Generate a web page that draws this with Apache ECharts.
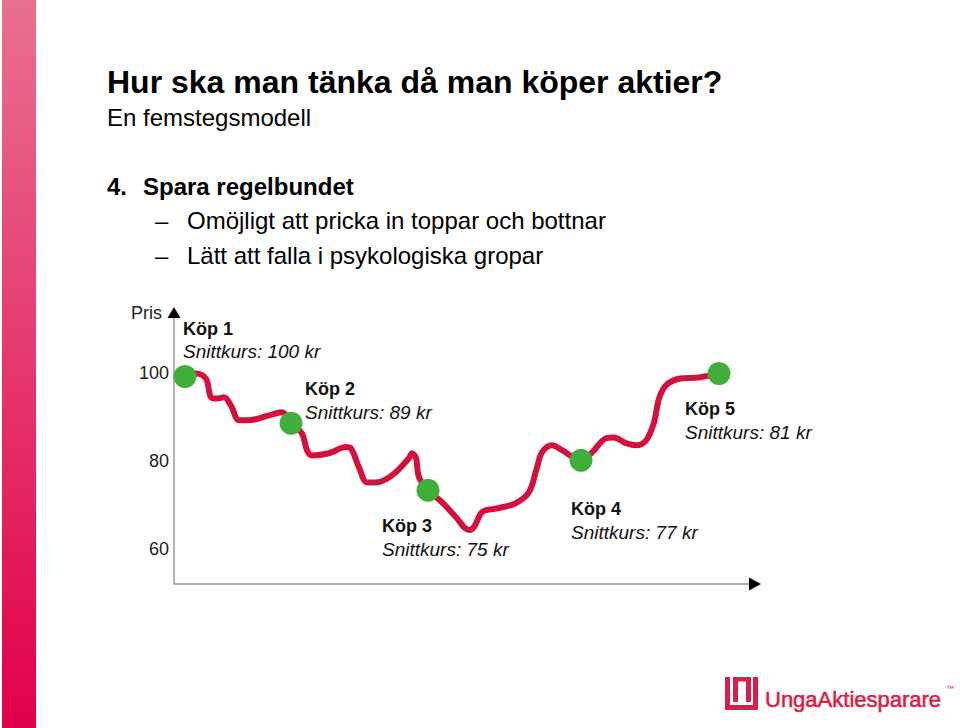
<!DOCTYPE html>
<html>
<head>
<meta charset="utf-8">
<script src="https://cdn.jsdelivr.net/npm/echarts@6/dist/echarts.min.js"></script>
<style>html,body{margin:0;padding:0;background:#fff}#c{width:960px;height:728px}</style>
</head>
<body>
<div id="c"></div>
<script>
// ---- data ----
const timeAxis = [1.1,2.2,3.2,3.7,4.3,5.0,5.7,6.5,7.5,9.5,10.8,11.7,12.8,13.3,13.8,15.5,17.2,17.7,18.5,19.3,20.2,21.8,23.5,23.8,24.2,24.5,25.4,26.8,28.2,29.5,30.0,30.7,31.2,32.5,34.2,35.5,36.3,36.8,37.8,38.8,40.7,41.8,43.2,44.0,45.2,46.2,47.2,48.0,48.5,49.2,50.5,52.5,54.5];
const priceSeries = [99.1,99.8,98.6,94.4,94.1,94.4,92.5,89.2,89.2,90.3,91.0,88.5,86.2,82.4,81.2,81.7,83.1,82.8,78.5,75.1,75.1,76.7,80.6,81.7,80.6,76.3,73.3,70.6,67.2,64.3,65.0,68.1,68.8,69.3,70.4,72.9,78.5,81.9,83.5,82.4,80.1,81.9,85.1,85.3,84.0,83.5,84.6,88.7,94.1,97.1,98.6,98.9,99.8];
const buyTime = [1.1, 11.7, 25.4, 40.7, 54.5];
const buyPrice = [99.1, 88.5, 73.3, 80.1, 99.8];
const buyNames = ['Köp 1','Köp 2','Köp 3','Köp 4','Köp 5'];
const avgPrice = [100, 89, 75, 77, 81];
const yTicks = [60, 80, 100];
const yAxisName = 'Pris';

// ---- layout / style config ----
const FONT = "'Liberation Sans', Arial, Helvetica, sans-serif";
const GL = 174, GT = 317, GR = 750, GB = 584;
const labelOffsets = [[9.5,-48],[25.5,-34],[-34.5,36],[1.5,49],[-22.5,36]];
const BRAND = '#d81f4c';

const chart = echarts.init(document.getElementById('c'), null, {renderer:'svg'});

const buyData = buyTime.map((t,i)=>({
  value:[t, buyPrice[i]],
  label:{position: labelOffsets[i]}
}));

const option = {
  animation:false,
  backgroundColor:'#fff',
  grid:{left:GL, top:GT, width:GR-GL, height:GB-GT, containLabel:false},
  xAxis:{
    type:'value', min:0, max:57.6,
    axisLine:{show:true, lineStyle:{color:'#9a9a9a', width:1.5}},
    axisTick:{show:false}, axisLabel:{show:false}, splitLine:{show:false}
  },
  yAxis:{
    type:'value', min:52.06, max:112.6,
    name:yAxisName, nameLocation:'end', nameGap:4,
    nameTextStyle:{fontFamily:FONT, fontSize:18, color:'#222', align:'right', verticalAlign:'middle', padding:[0,12,0,0]},
    axisLine:{show:true, lineStyle:{color:'#9a9a9a', width:1.5}},
    axisTick:{show:false},
    axisLabel:{customValues:yTicks, fontFamily:FONT, fontSize:18, color:'#222', margin:5},
    splitLine:{show:false}
  },
  series:[
    {
      type:'line', data: timeAxis.map((t,i)=>[t, priceSeries[i]]),
      smooth:0.35, showSymbol:false, symbol:'none',
      lineStyle:{color:'#d2113f', width:6, cap:'round', join:'round'},
      z:2, silent:true
    },
    {
      type:'scatter', data: buyData, symbolSize:23,
      itemStyle:{color:'#3fae3b', opacity:1},
      z:3, silent:true,
      label:{
        show:true, align:'left', verticalAlign:'top',
        formatter:(p)=>'{b|'+buyNames[p.dataIndex]+'}\n{i|Snittkurs: '+avgPrice[p.dataIndex]+' kr}',
        rich:{
          b:{fontFamily:FONT, fontSize:18, fontWeight:'bold', color:'#111', lineHeight:23},
          i:{fontFamily:FONT, fontSize:19, fontStyle:'italic', color:'#111', lineHeight:23}
        }
      }
    }
  ],
  graphic:[
    {type:'rect', shape:{x:2,y:0,width:34,height:728}, style:{fill:new echarts.graphic.LinearGradient(0,0,0,1,[{offset:0,color:'#e9708f'},{offset:1,color:'#e1004a'}])}, silent:true},
    {type:'text', style:{x:107, y:82, text:'Hur ska man tänka då man köper aktier?', font:'bold 32px '+FONT, fill:'#000', verticalAlign:'middle'}},
    {type:'text', style:{x:107, y:117, text:'En femstegsmodell', font:'24px '+FONT, fill:'#000', verticalAlign:'middle'}},
    {type:'text', style:{x:107, y:186, text:'4.', font:'bold 24px '+FONT, fill:'#000', verticalAlign:'middle'}},
    {type:'text', style:{x:143, y:186, text:'Spara regelbundet', font:'bold 24px '+FONT, fill:'#000', verticalAlign:'middle'}},
    {type:'text', style:{x:155, y:220, text:'–', font:'24px '+FONT, fill:'#000', verticalAlign:'middle'}},
    {type:'text', style:{x:187, y:220, text:'Omöjligt att pricka in toppar och bottnar', font:'24px '+FONT, fill:'#000', verticalAlign:'middle'}},
    {type:'text', style:{x:155, y:255, text:'–', font:'24px '+FONT, fill:'#000', verticalAlign:'middle'}},
    {type:'text', style:{x:187, y:255, text:'Lätt att falla i psykologiska gropar', font:'24px '+FONT, fill:'#000', verticalAlign:'middle'}},
    // axis arrowheads
    {type:'polygon', shape:{points:[[GL-6.5,GT+1],[GL+6.5,GT+1],[GL,GT-10]]}, style:{fill:'#000'}, z:10},
    {type:'polygon', shape:{points:[[GR-1,GB-6.5],[GR-1,GB+6.5],[GR+11,GB]]}, style:{fill:'#000'}, z:10},
    // logo
    {type:'rect', shape:{x:725,y:677,width:5,height:33}, style:{fill:BRAND}},
    {type:'rect', shape:{x:725,y:705,width:33,height:5}, style:{fill:BRAND}},
    {type:'rect', shape:{x:753,y:677,width:5,height:33}, style:{fill:BRAND}},
    {type:'rect', shape:{x:733,y:677,width:18,height:4.5}, style:{fill:BRAND}},
    {type:'rect', shape:{x:733,y:677,width:5,height:25}, style:{fill:BRAND}},
    {type:'rect', shape:{x:746,y:677,width:5,height:25}, style:{fill:BRAND}},
    {type:'text', style:{x:765, y:699, text:'UngaAktiesparare', font:'22px '+FONT, fill:BRAND, stroke:BRAND, lineWidth:0.6, verticalAlign:'middle'}},
    {type:'text', style:{x:946, y:688, text:'™', font:'8px '+FONT, fill:BRAND, verticalAlign:'middle'}}
  ]
};
chart.setOption(option);
</script>
</body>
</html>
